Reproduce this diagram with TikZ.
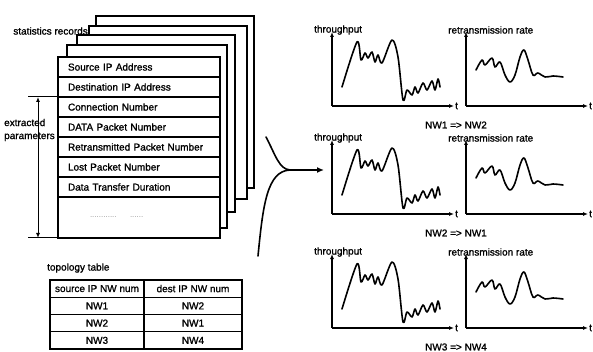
\documentclass[tikz,border=0pt]{standalone}
\usepackage{fontspec}
\setmainfont{Liberation Sans}[FakeBold=1.2]
\newfontfamily\dotfont{Liberation Sans}
\usetikzlibrary{arrows.meta, positioning}

\begin{document}
\begin{tikzpicture}[x=1pt, y=-1pt, node distance=0pt,
    every node/.style={font=\fontsize{10}{13}\selectfont},
    field/.style={draw, line width=1.2pt, fill=white, outer sep=0pt, inner xsep=10pt,
      inner ysep=0pt, text width=142pt, minimum height=20pt, align=left},
    cell/.style={draw, line width=1.1pt, outer sep=0pt, inner sep=0pt,
      minimum height=17.25pt, align=center},
    page/.style={draw, line width=1.3pt, fill=white},
    axis/.style={line width=1.4pt, -{Latex[length=5pt,width=4pt]}},
    curve/.style={line width=1.6pt, line join=round, line cap=round},
    tag/.style={inner sep=0pt, anchor=west}]
  \useasboundingbox (0,0) rectangle (593,352);

  % stack of statistics records
  \foreach \k/\xa/\ya/\xb/\yb in {4/96/16/254/188, 3/89/26/247/199, 2/77/35/235/212, 1/67/45/227/228}
    \draw[page] (\xa,\ya) rectangle (\xb,\yb);
  \node[tag, anchor=east] (strec) at (88,31) {statistics records};

  \node[field] (f1) at (139,67) {Source IP Address};
  \node[field, below=of f1] (f2) {Destination IP Address};
  \node[field, below=of f2] (f3) {Connection Number};
  \node[field, below=of f3] (f4) {DATA Packet Number};
  \node[field, below=of f4] (f5) {Retransmitted Packet Number};
  \node[field, below=of f5] (f6) {Lost Packet Number};
  \node[field, below=of f6] (f7) {Data Transfer Duration};
  \node[field, below=of f7, minimum height=41pt] (fblank)
    {\hspace*{22pt}{\dotfont\fontsize{8}{9}\selectfont\color{black!40}............\ \ \ \ ......}};

  % extracted parameters
  \coordinate (ept) at (28,97);
  \coordinate (epb) at (28,238);
  \coordinate (epat) at (38,97);
  \coordinate (epab) at (38,238);
  \draw[line width=1pt] (ept) -- (f3.north west);
  \draw[line width=1pt] (epb) -- (fblank.south west);
  \draw[line width=1pt, {Latex[length=5pt,width=4pt]}-{Latex[length=5pt,width=4pt]}] (epat) -- (epab);
  \node[tag, align=left] (eplab) at (4,130) {extracted\\parameters};

  % topology table
  \node[tag] (toplab) at (47,268) {topology table};
  \node[cell, minimum width=94pt] (h1) at (97,288.6) {source IP NW num};
  \node[cell, minimum width=98pt, right=of h1] (h2) {dest IP NW num};
  \node[cell, minimum width=94pt, below=of h1] (a1) {NW1};
  \node[cell, minimum width=98pt, right=of a1] (b1) {NW2};
  \node[cell, minimum width=94pt, below=of a1] (a2) {NW2};
  \node[cell, minimum width=98pt, right=of a2] (b2) {NW1};
  \node[cell, minimum width=94pt, below=of a2] (a3) {NW3};
  \node[cell, minimum width=98pt, right=of a3] (b3) {NW4};

  % branching arrow
  \coordinate (brup) at (266,137);
  \coordinate (brlo) at (258,256);
  \coordinate (brj) at (290,170);
  \coordinate (brtip) at (324,170);
  \draw[curve] (brup) .. controls (276,156) and (279,169) .. (brj);
  \draw[curve] (brlo) .. controls (263,205) and (267,171) .. (brj);
  \draw[curve, -{Latex[length=7pt,width=6pt]}] (brj) -- (brtip);

  % charts per NW pair
  \foreach \r/\yy/\src/\dst in {1/106/1/2, 2/214/2/1, 3/328/3/4} {
    \coordinate (tpo\r) at (332,\yy);
    \coordinate (tpy\r) at (332,\yy-74);
    \coordinate (tpx\r) at (454,\yy);
    \draw[axis] (tpo\r) -- (tpy\r);
    \draw[axis] (tpo\r) -- (tpx\r);
    \node[tag] (tplab\r) at (314,\yy-76) {throughput};
    \node[tag, right=1pt of tpx\r] (tpt\r) {t};
    \draw[curve, shift={(332,\yy)}] plot[smooth, tension=0.5] coordinates {
      (10,-19) (25,-64) (29,-46) (33,-53) (36,-48) (40,-54) (43,-44) (46,-51)
      (50,-43) (60,-66) (66,-49) (71,-6) (75,-16) (80,-11) (83,-19) (86,-13)
      (91,-23) (95,-16) (100,-25) (103,-16) (106,-27) (108,-19)};

    \coordinate (rro\r) at (466,\yy);
    \coordinate (rry\r) at (466,\yy-74);
    \coordinate (rrx\r) at (588,\yy);
    \draw[axis] (rro\r) -- (rry\r);
    \draw[axis] (rro\r) -- (rrx\r);
    \node[tag] (rrlab\r) at (448,\yy-76) {retransmission rate};
    \node[tag, right=1pt of rrx\r] (rrt\r) {t};
    \draw[curve, shift={(466,\yy)}] plot[smooth, tension=0.6] coordinates {
      (10,-36) (16,-46) (19,-41) (26,-48) (29,-39) (34,-44) (39,-31) (44,-24)
      (49,-31) (54,-49) (58,-56) (62,-46) (67,-31) (72,-33) (79,-29) (87,-30) (97,-29)};

    \node (nw\r) at (456,\yy+19) {NW\src{} => NW\dst};
  }
\end{tikzpicture}
\end{document}
